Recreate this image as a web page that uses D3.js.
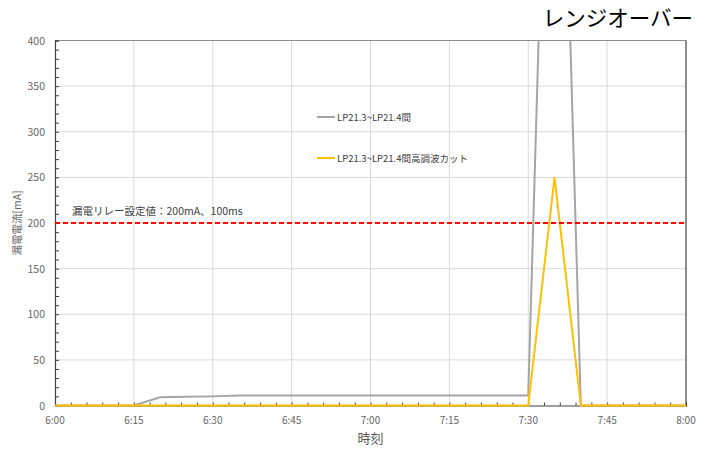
<!DOCTYPE html>
<html><head><meta charset="utf-8">
<script src="https://cdn.jsdelivr.net/npm/d3@7"></script>
<style>
html,body{margin:0;padding:0;background:#fff;}
svg text{font-family:"Noto Sans CJK JP","Noto Sans",sans-serif;}
</style></head>
<body>
<svg id="chart" width="709" height="449"></svg>
<script>
// time in minutes from midnight
const times = [360,365,370,375,380,385,390,395,400,405,410,415,420,425,430,435,440,445,450,455,460,465,470,475,480];
const seriesGrey = [0,0,0,0,9,9.5,10,11,11,11,11,11,11,11,11,11,11,11,11,1000,0,0,0,0,0];
const seriesYellow = [0,0,0,0,0,0,0,0,0,0,0,0,0,0,0,0,0,0,0,250,0,0,0,0,0];
const seriesNames = ["LP21.3~LP21.4間","LP21.3~LP21.4間高調波カット"];
const xTickValues = [360,375,390,405,420,435,450,465,480];
const xTickLabels = ["6:00","6:15","6:30","6:45","7:00","7:15","7:30","7:45","8:00"];
const yTickValues = [0,50,100,150,200,250,300,350,400];
const threshold = 200;
const thresholdLabel = "漏電リレー設定値：200mA、100ms";
const xTitle = "時刻";
const yTitle = "漏電電流[mA]";
const chartTitle = "レンジオーバー";

const svg = d3.select("#chart");
const L = 55, R = 686, T = 40.5, B = 405.5;
const x = d3.scaleLinear().domain([360,480]).range([L,R]);
const y = d3.scaleLinear().domain([0,400]).range([B,T]);

// gridlines
svg.append("g").selectAll("line").data(yTickValues.slice(1)).join("line")
  .attr("x1",L).attr("x2",R).attr("y1",d=>y(d)).attr("y2",d=>y(d))
  .attr("stroke","#d9d9d9").attr("stroke-width",1);
svg.append("g").selectAll("line").data(xTickValues.slice(1,-1)).join("line")
  .attr("y1",T).attr("y2",B).attr("x1",d=>x(d)).attr("x2",d=>x(d))
  .attr("stroke","#d9d9d9").attr("stroke-width",1);

// border top/right
svg.append("line").attr("x1",L).attr("x2",R).attr("y1",T).attr("y2",T).attr("stroke","#8c8c8c").attr("stroke-width",1.2);
svg.append("line").attr("x1",R).attr("x2",R).attr("y1",T).attr("y2",B).attr("stroke","#404040").attr("stroke-width",1.2);

// axes
const minorY = d3.range(0,401,10);
const minorX = d3.range(360,481,3);
const yAxis = svg.append("g").attr("transform",`translate(${L},0)`)
  .call(d3.axisLeft(y).tickValues(minorY).tickSize(-4).tickFormat(""));
yAxis.select(".domain").attr("stroke","#404040").attr("stroke-width",1.2);
yAxis.selectAll(".tick line").attr("stroke","#404040");
svg.append("g").selectAll("text").data(yTickValues).join("text")
  .attr("x",L-10).attr("y",d=>y(d)+4).attr("text-anchor","end")
  .attr("font-size",10.5).attr("fill","#666").text(d=>d);

const xAxis = svg.append("g").attr("transform",`translate(0,${B})`)
  .call(d3.axisBottom(x).tickValues(minorX).tickSize(-3).tickFormat(""));
xAxis.select(".domain").attr("stroke","#404040").attr("stroke-width",1.2);
xAxis.selectAll(".tick line").attr("stroke","#404040");
svg.append("g").selectAll("text").data(xTickValues).join("text")
  .attr("x",d=>x(d)).attr("y",424).attr("text-anchor","middle")
  .attr("font-size",10).attr("fill","#666").text((d,i)=>xTickLabels[i]);

// titles
svg.append("text").attr("x",(L+R)/2).attr("y",443).attr("text-anchor","middle")
  .attr("font-size",13).attr("fill","#595959").text(xTitle);
svg.append("text").attr("transform",`translate(20.5,${(T+B)/2}) rotate(-90)`)
  .attr("text-anchor","middle").attr("font-size",10.5).attr("fill","#666").text(yTitle);
svg.append("text").attr("x",693).attr("y",26).attr("text-anchor","end")
  .attr("font-size",21.5).attr("font-weight",400).attr("fill","#000").text(chartTitle);

// clip
svg.append("clipPath").attr("id","clip").append("rect")
  .attr("x",L).attr("y",T).attr("width",R-L).attr("height",B-T+2);

const line = d3.line().x(d=>x(d[0])).y(d=>y(d[1]));
const g = svg.append("g").attr("clip-path","url(#clip)");
g.append("path").datum(times.map((t,i)=>[t,seriesGrey[i]]))
  .attr("d",line).attr("fill","none").attr("stroke","#a5a5a5").attr("stroke-width",2);
g.append("path").datum(times.map((t,i)=>[t,seriesYellow[i]]))
  .attr("d",line).attr("fill","none").attr("stroke","#ffc000").attr("stroke-width",2);

// threshold
svg.append("line").attr("x1",L).attr("x2",R).attr("y1",y(threshold)).attr("y2",y(threshold))
  .attr("stroke","#ff0000").attr("stroke-width",2).attr("stroke-dasharray","5,3");
svg.append("text").attr("x",72).attr("y",y(threshold)-8).attr("font-size",10.5)
  .attr("fill","#404040").text(thresholdLabel);

// legend
const legY = [117,158];
const legColors = ["#a5a5a5","#ffc000"];
seriesNames.forEach((n,i)=>{
  svg.append("line").attr("x1",317).attr("x2",335).attr("y1",legY[i]).attr("y2",legY[i])
    .attr("stroke",legColors[i]).attr("stroke-width",2);
  svg.append("text").attr("x",337).attr("y",legY[i]+3.5).attr("font-size",9.5)
    .attr("fill","#404040").text(n);
});
</script>
</body></html>
